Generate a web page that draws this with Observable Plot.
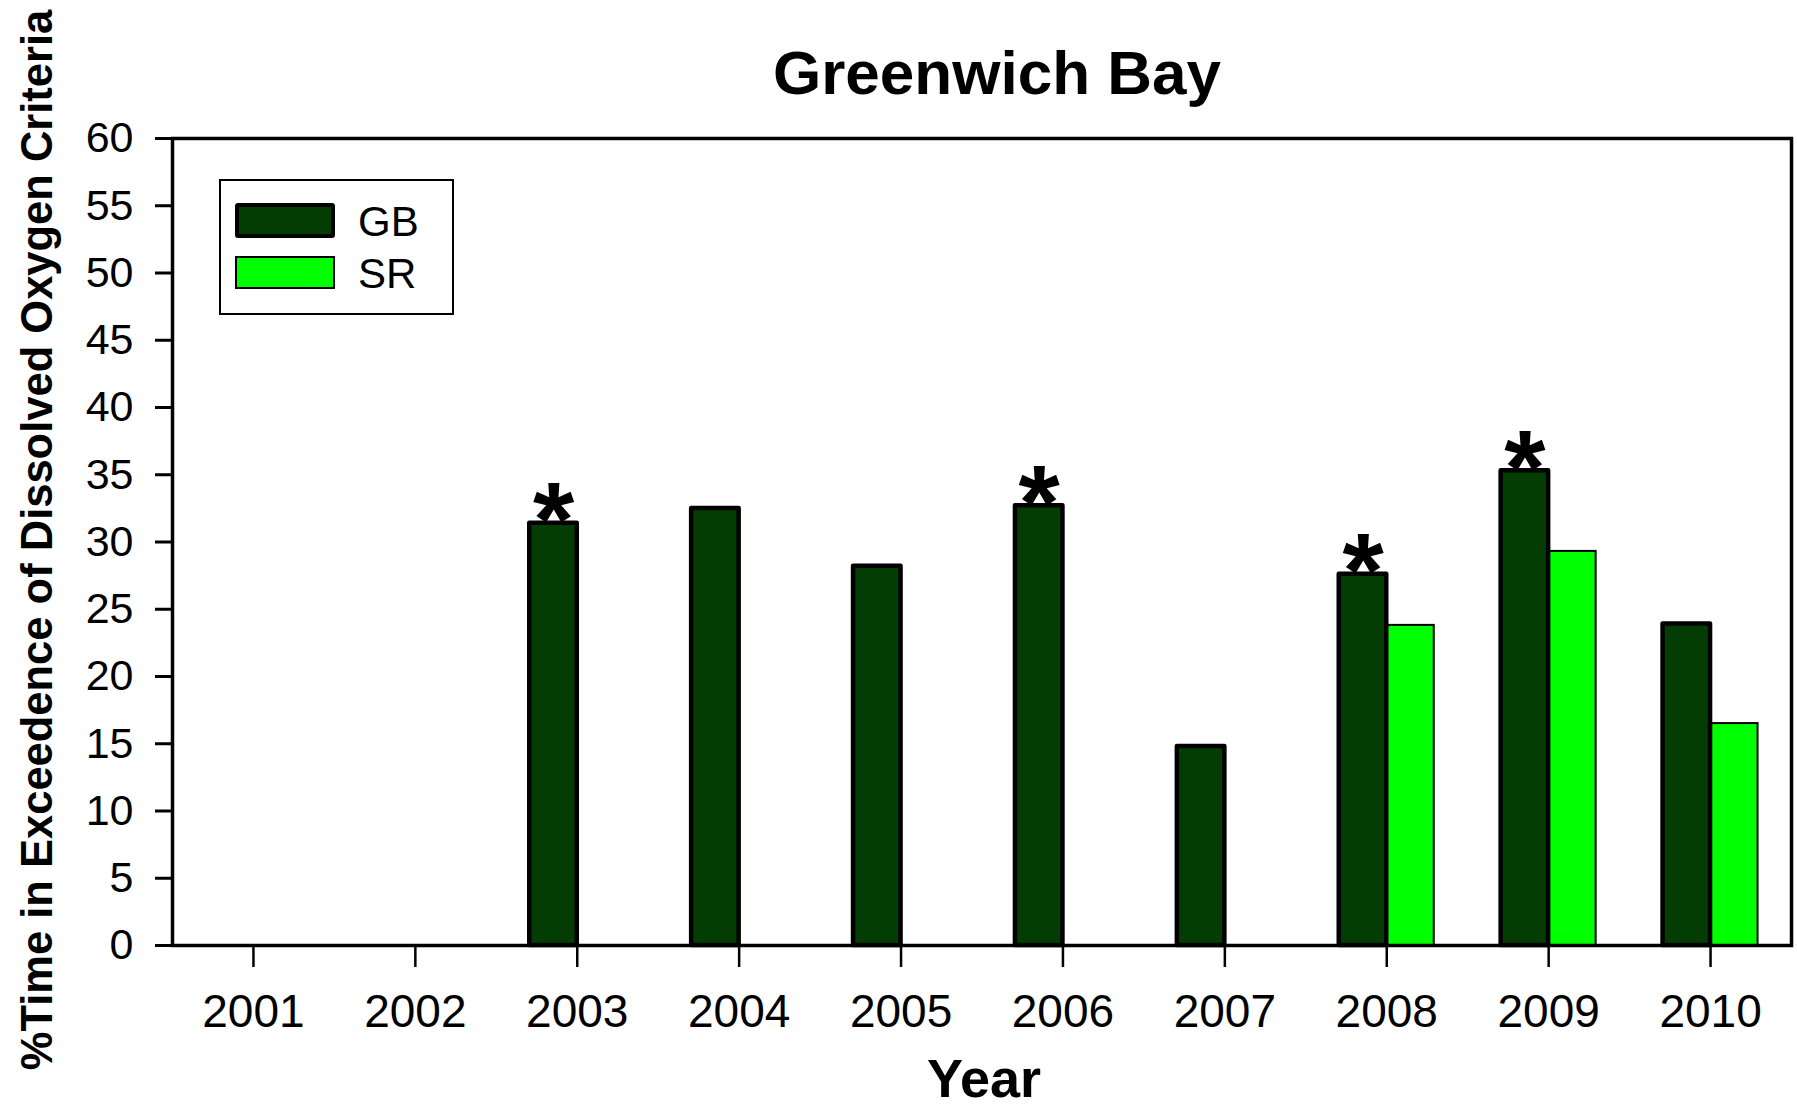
<!DOCTYPE html>
<html>
<head>
<meta charset="utf-8">
<script src="https://cdn.jsdelivr.net/npm/d3@7"></script>
<script src="https://cdn.jsdelivr.net/npm/@observablehq/plot@0.6"></script>
<style>
  html, body { margin: 0; padding: 0; background: #fff; }
  #chart { position: relative; width: 1797px; height: 1110px; font-family: "Liberation Sans", Arial, sans-serif; color: #000; }
  #chart svg { position: absolute; left: 0; top: 0; }
  .title { position: absolute; left: 997px; top: 104px; transform: translate(-50%, -100%); font-weight: bold; font-size: 62px; line-height: 1; white-space: nowrap; }
  .ylabel { position: absolute; left: 38px; top: 540px; transform: translate(-50%, -50%) rotate(-90deg); font-weight: bold; font-size: 43.5px; line-height: 1; white-space: nowrap; }
  .xlabel { position: absolute; left: 984px; top: 1109px; transform: translate(-50%, -100%); font-weight: bold; font-size: 54px; line-height: normal; white-space: nowrap; }
  .legend { position: absolute; left: 219px; top: 179px; width: 231px; height: 132px; border: 2px solid #000; background: #fff; }
  .legend .sw { position: absolute; left: 14px; width: 100px; box-sizing: border-box; }
  .legend .lab { position: absolute; left: 137px; font-size: 42px; line-height: 1; transform: translateY(-50%); }
</style>
</head>
<body>
<div id="chart"></div>
<script>
// Greenwich Bay: % of time dissolved oxygen criteria were exceeded, by year
const years = ["2001", "2002", "2003", "2004", "2005", "2006", "2007", "2008", "2009", "2010"];
const gbValues = [null, null, 31.4, 32.5, 28.2, 32.7, 14.8, 27.6, 35.3, 23.9];
const srValues = [null, null, null, null, null, null, null, 23.8, 29.3, 16.5];
const starred = [false, false, true, false, false, true, false, true, true, false];
const yTicks = [0, 5, 10, 15, 20, 25, 30, 35, 40, 45, 50, 55, 60];

const seriesNames = ["GB", "SR"];
const seriesColors = ["#033d03", "#00ff00"];

const gbRows = years.map((year, i) => ({year, value: gbValues[i], star: starred[i]})).filter(d => d.value != null);
const srRows = years.map((year, i) => ({year, value: srValues[i]})).filter(d => d.value != null);
const starRows = gbRows.filter(d => d.star);

const W = 1797, H = 1110;
const margin = {left: 172, right: 6, top: 138, bottom: 165};
const bandWidth = (W - margin.left - margin.right) / years.length;
const barWidth = 47.5;   // each of the paired bars
const half = bandWidth / 2;

const plot = Plot.plot({
  width: W,
  height: H,
  marginLeft: margin.left,
  marginRight: margin.right,
  marginTop: margin.top,
  marginBottom: margin.bottom,
  style: {fontFamily: "'Liberation Sans', Arial, sans-serif", color: "#000", background: "transparent", overflow: "visible"},
  x: {domain: years, padding: 0, round: false, label: null},
  y: {domain: [0, 60], label: null},
  marks: [
    // SR bar sits right of the year tick, GB bar left of it (GB drawn last so its thick edge stays on top)
    Plot.barY(srRows, {x: "year", y: "value", fill: seriesColors[1], stroke: "#000", strokeWidth: 2,
      insetLeft: half, insetRight: half - barWidth}),
    Plot.barY(gbRows, {x: "year", y: "value", fill: seriesColors[0], stroke: "#000", strokeWidth: 4.5,
      strokeLinejoin: "round", insetLeft: half - barWidth, insetRight: half}),
    // asterisks mark the flagged GB years
    Plot.text(starRows, {x: "year", y: "value", text: () => "*", dx: -barWidth / 2, dy: 33,
      lineAnchor: "bottom", fontSize: 106, fontWeight: "bold", fill: "#000"}),
    Plot.frame({stroke: "#000", strokeWidth: 3.5}),
    Plot.axisY({ticks: yTicks, tickSize: 17, tickPadding: 22, fontSize: 43, strokeWidth: 3, label: null}),
    Plot.axisX({tickSize: 22, tickPadding: 27, fontSize: 46, strokeWidth: 2.5, label: null})
  ]
});

const chart = document.getElementById("chart");
chart.appendChild(plot);

const title = document.createElement("div");
title.className = "title";
title.textContent = "Greenwich Bay";
chart.appendChild(title);

const ylab = document.createElement("div");
ylab.className = "ylabel";
ylab.textContent = "%Time in Exceedence of Dissolved Oxygen Criteria";
chart.appendChild(ylab);

const xlab = document.createElement("div");
xlab.className = "xlabel";
xlab.textContent = "Year";
chart.appendChild(xlab);

// legend box
const legend = document.createElement("div");
legend.className = "legend";
const swatchTops = [22, 75];
const swatchHeights = [35, 33];
const swatchBorders = ["4px solid #000", "2px solid #000"];
seriesNames.forEach((name, i) => {
  const sw = document.createElement("div");
  sw.className = "sw";
  sw.style.top = swatchTops[i] + "px";
  sw.style.height = swatchHeights[i] + "px";
  sw.style.background = seriesColors[i];
  sw.style.border = swatchBorders[i];
  if (i === 0) sw.style.borderRadius = "3px";
  legend.appendChild(sw);
  const lab = document.createElement("div");
  lab.className = "lab";
  lab.style.top = (swatchTops[i] + swatchHeights[i] / 2 + 1) + "px";
  lab.textContent = name;
  legend.appendChild(lab);
});
chart.appendChild(legend);
</script>
</body>
</html>
